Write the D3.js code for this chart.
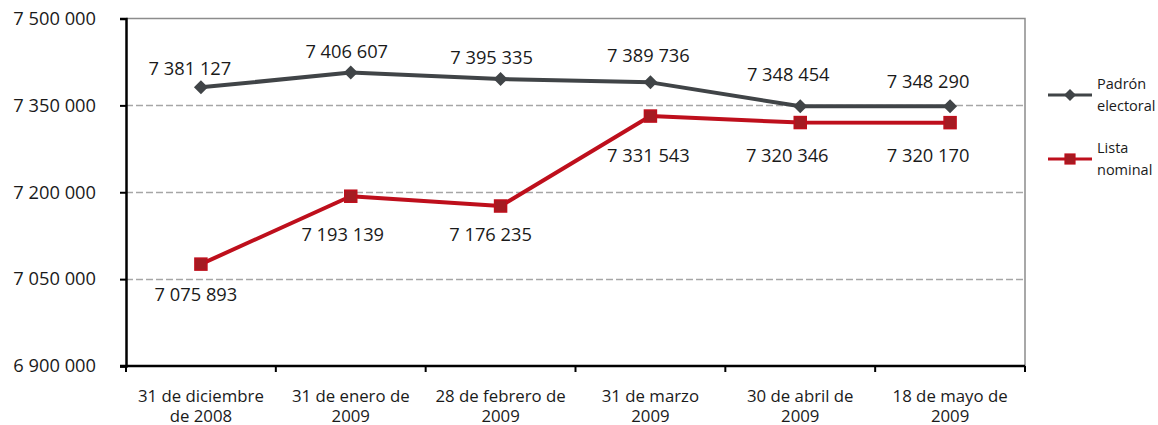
<!DOCTYPE html>
<html>
<head>
<meta charset="utf-8">
<script src="https://cdn.jsdelivr.net/npm/d3@7"></script>
<style>
  body { margin: 0; background: #fff; }
  svg text { font-family: "Open Sans", sans-serif; fill: #1a1a1a; }
</style>
</head>
<body>
<svg id="chart" width="1158" height="425"></svg>
<script>
const categories = [
    ["31 de diciembre", "de 2008"],
    ["31 de enero de", "2009"],
    ["28 de febrero de", "2009"],
    ["31 de marzo", "2009"],
    ["30 de abril de", "2009"],
    ["18 de mayo de", "2009"]
];
const padron = [7381127, 7406607, 7395335, 7389736, 7348454, 7348290];
const lista = [7075893, 7193139, 7176235, 7331543, 7320346, 7320170];
const yTicks = [6900000, 7050000, 7200000, 7350000, 7500000];

// label nudges (layout only), relative to each point
const padronLabelOff = [[-11, -20], [-4, -22], [-9, -23], [-2, -28], [-12, -33], [-22, -26]];
const listaLabelOff = [[-5, 29], [-8, 37], [-10, 27], [-2, 38], [-13, 32], [-22, 32]];

const fmt = (v) => d3.format(",")(v).replace(/,/g, " ");

const margin = {left: 126, right: 133, top: 18.5, bottom: 59};
const width = 1158, height = 425;
const numSize = 18.3;
const svg = d3.select("#chart");

const x = d3.scaleBand()
    .domain(d3.range(categories.length))
    .range([margin.left, width - margin.right]);
const y = d3.scaleLinear()
    .domain([6900000, 7500000])
    .range([height - margin.bottom, margin.top]);

const cx = (i) => x(i) + x.bandwidth() / 2;

// gridlines
svg.append("g")
    .selectAll("line")
    .data(yTicks.filter(t => t > 6900000 && t < 7500000))
    .enter().append("line")
        .attr("x1", margin.left).attr("x2", width - margin.right)
        .attr("y1", d => Math.round(y(d)) + 0.5).attr("y2", d => Math.round(y(d)) + 0.5)
        .attr("stroke", "#a6a6a6")
        .attr("stroke-width", 1.5)
        .attr("stroke-dasharray", "7,3");

// plot border top / right
svg.append("path")
    .attr("d", `M${margin.left},${y(7500000)}H${width - margin.right}V${y(6900000)}`)
    .attr("fill", "none")
    .attr("stroke", "#8c8c8c")
    .attr("stroke-width", 1.5);

// y axis
const yAxis = svg.append("g")
    .attr("transform", `translate(${margin.left},0)`)
    .call(d3.axisLeft(y).tickValues(yTicks).tickSize(6).tickPadding(24).tickFormat(fmt));
yAxis.select(".domain").attr("stroke", "#000").attr("stroke-width", 2.5);
yAxis.selectAll(".tick line").attr("stroke", "#000").attr("stroke-width", 2);
yAxis.selectAll(".tick text").attr("font-size", numSize).attr("fill", "#1a1a1a")
    .attr("font-family", "Open Sans, sans-serif");

// x axis
const xBase = y(6900000);
const bounds = d3.range(categories.length + 1).map(i => margin.left + i * x.bandwidth());
svg.append("line")
    .attr("x1", margin.left - 6).attr("x2", width - margin.right)
    .attr("y1", xBase).attr("y2", xBase)
    .attr("stroke", "#000").attr("stroke-width", 2.5);
svg.append("g").selectAll("line")
    .data(bounds)
    .enter().append("line")
        .attr("x1", d => d).attr("x2", d => d)
        .attr("y1", xBase).attr("y2", xBase + 6)
        .attr("stroke", "#000").attr("stroke-width", 2);

const xl = svg.append("g").selectAll("text")
    .data(categories)
    .enter().append("text")
        .attr("text-anchor", "middle")
        .attr("font-size", 16.8)
        .attr("x", (d, i) => cx(i));
xl.append("tspan").attr("x", (d, i) => cx(i)).attr("y", 402).text(d => d[0]);
xl.append("tspan").attr("x", (d, i) => cx(i)).attr("y", 421.5).text(d => d[1]);

// series
const series = [
    {name: ["Padrón", "electoral"], values: padron, color: "#404447", fill: "#404447", marker: "diamond", off: padronLabelOff},
    {name: ["Lista", "nominal"], values: lista, color: "#be0f1c", fill: "#a51b22", marker: "square", off: listaLabelOff}
];

const line = d3.line().x((d, i) => cx(i)).y(d => y(d));

function drawMarker(g, type, s) {
    if (type === "diamond") {
        g.append("path").attr("d", "M0,-7L7,0L0,7L-7,0Z")
            .attr("fill", s.fill);
    } else {
        g.append("rect").attr("x", -6).attr("y", -6).attr("width", 12).attr("height", 12)
            .attr("fill", s.fill).attr("stroke", s.color).attr("stroke-width", 1.5);
    }
}

series.forEach(function(s) {
    svg.append("path")
        .datum(s.values)
        .attr("d", line)
        .attr("fill", "none")
        .attr("stroke", s.color)
        .attr("stroke-width", 4)
        .attr("stroke-linejoin", "round");

    svg.append("g").selectAll("g")
        .data(s.values)
        .enter().append("g")
            .attr("transform", (d, i) => `translate(${cx(i)},${y(d)})`)
            .each(function() { drawMarker(d3.select(this), s.marker, s); });

    svg.append("g").selectAll("text")
        .data(s.values)
        .enter().append("text")
            .attr("text-anchor", "middle")
            .attr("dominant-baseline", "central")
            .attr("font-size", numSize)
            .attr("x", (d, i) => cx(i) + s.off[i][0])
            .attr("y", (d, i) => y(d) + s.off[i][1])
            .text(fmt);
});

// legend
const legend = svg.append("g").attr("transform", "translate(1048,0)");
const legendY = [95, 159];
series.forEach(function(s, k) {
    const g = legend.append("g").attr("transform", `translate(0,${legendY[k]})`);
    g.append("line").attr("x1", 0).attr("x2", 44).attr("stroke", s.color).attr("stroke-width", 3);
    const m = g.append("g").attr("transform", "translate(22,0)");
    if (s.marker === "diamond") {
        m.append("path").attr("d", "M0,-6L6,0L0,6L-6,0Z").attr("fill", s.fill);
    } else {
        m.append("rect").attr("x", -5).attr("y", -5).attr("width", 10).attr("height", 10)
            .attr("fill", s.fill).attr("stroke", s.color).attr("stroke-width", 1.2);
    }
    const t = g.append("text").attr("font-size", 14.5);
    t.append("tspan").attr("x", 49).attr("y", -6).text(s.name[0]);
    t.append("tspan").attr("x", 49).attr("y", 16).text(s.name[1]);
});
</script>
</body>
</html>
